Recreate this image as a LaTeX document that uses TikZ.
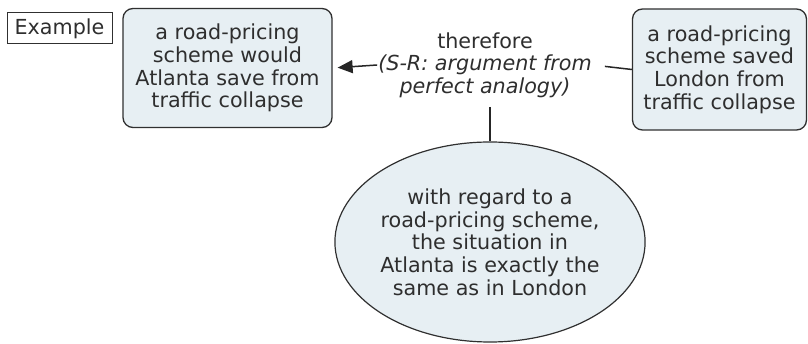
\documentclass[tikz,border=0pt]{standalone}
\usepackage{fontspec}
\setmainfont{DejaVu Sans}
\usetikzlibrary{arrows.meta,shapes.geometric}
\definecolor{boxfill}{HTML}{E7EFF3}
\definecolor{edge}{HTML}{303030}
\tikzset{
  txt/.style={font=\fontsize{20.7}{22.7}\selectfont, text=black!82, align=center},
  concept/.style={txt, draw=edge, line width=1.3pt, fill=boxfill, rounded corners=10pt, inner sep=0pt},
  conn/.style={draw=black!85, line width=1.5pt},
}
\begin{document}
\begin{tikzpicture}[x=1pt,y=-1pt]
\useasboundingbox (0,0) rectangle (808,344);
\node[txt, draw=edge, line width=1pt, minimum width=105, minimum height=31, inner sep=0pt] (ex) at (59.5,28.5) {Example};
\node[concept, minimum width=209, minimum height=119] (L) at (227.5,68) {a road-pricing\\scheme would\\Atlanta save from\\traffic collapse};
\node[concept, minimum width=174, minimum height=121] (R) at (719.5,69.5) {a road-pricing\\scheme saved\\London from\\traffic collapse};
\node[txt, inner sep=1pt] (lbl) at (485,65) {therefore\\\itshape (S-R: argument from\\\itshape perfect analogy)};
\node[txt, ellipse, draw=edge, line width=1.2pt, fill=boxfill, minimum width=306, minimum height=200, inner sep=0pt] (E) at (490,242) {with regard to a\\road-pricing scheme,\\the situation in\\Atlanta is exactly the\\same as in London};
\draw[conn, -{Triangle[length=15pt,width=13pt]}, shorten >=5pt] (lbl.west) -- (L.east);
\draw[conn, shorten <=12pt] (lbl.east) -- (R.west);
\draw[conn, shorten <=8pt] (lbl.south -| E.north) -- (E.north);
\end{tikzpicture}
\end{document}
